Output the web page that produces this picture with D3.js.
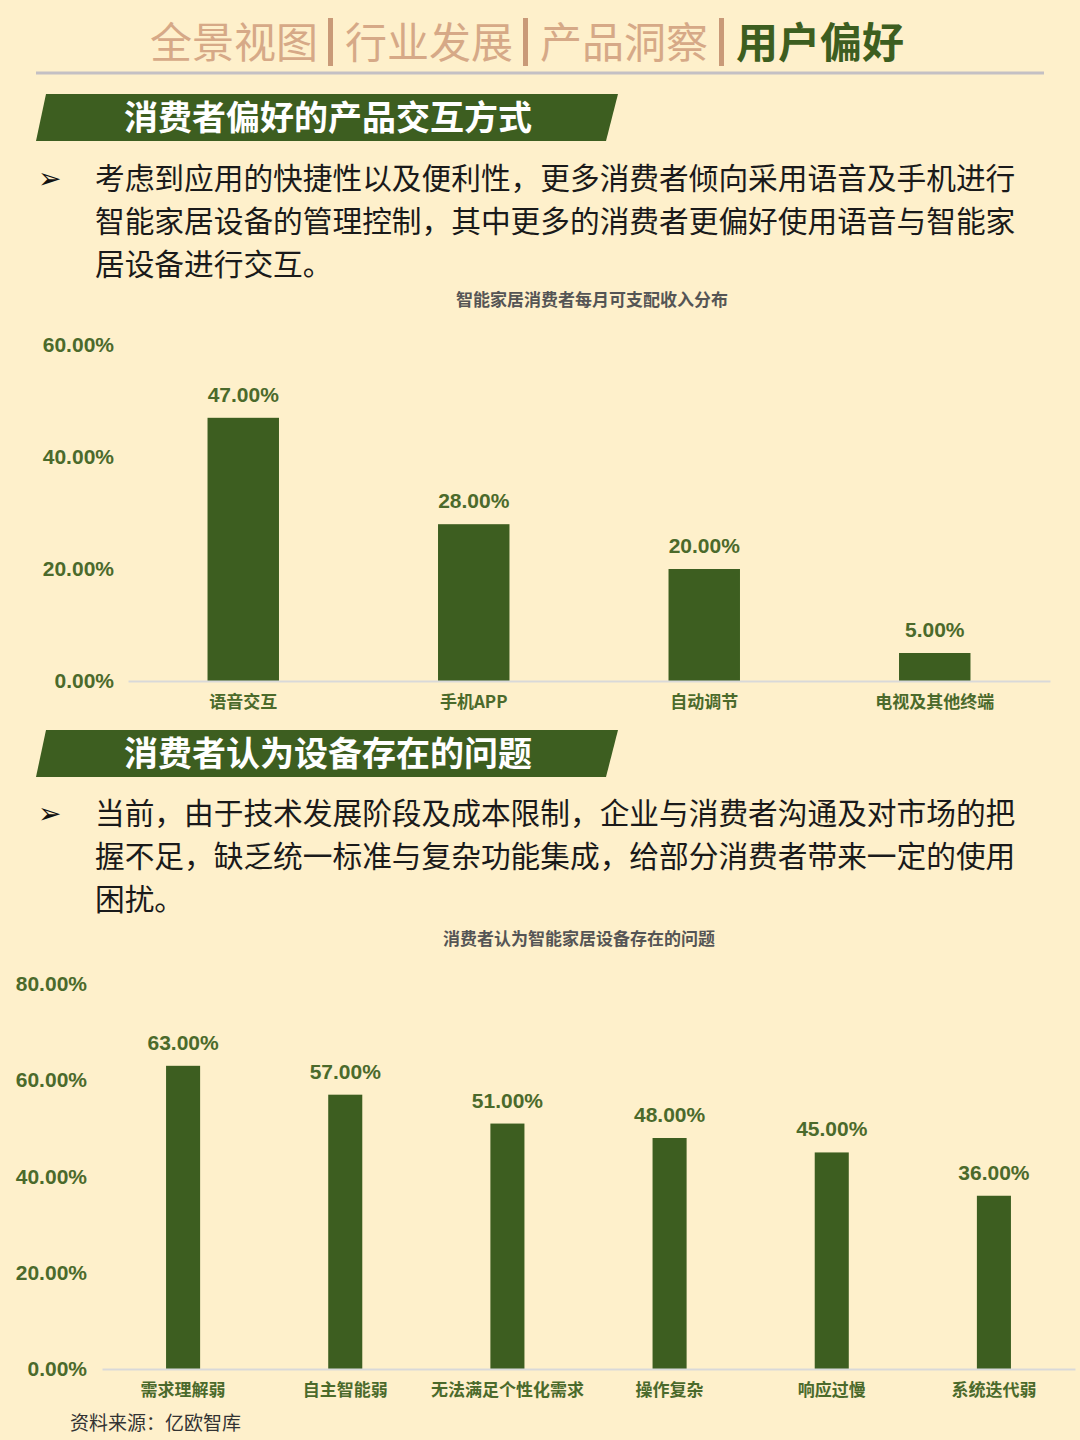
<!DOCTYPE html>
<html lang="zh">
<head>
<meta charset="UTF-8">
<title>用户偏好</title>
<script src="https://d3js.org/d3.v7.min.js"></script>
<style>
  body { margin: 0; background: #fef0cb; }
  svg { display: block; }
</style>
</head>
<body>
<div id="page"></div>
<script>
// chart 1 data
var interactCats = ["语音交互", "手机APP", "自动调节", "电视及其他终端"];
var interactVals = [0.47, 0.28, 0.20, 0.05];
var interactTicks = [0, 0.2, 0.4, 0.6];

// chart 2 data
var problemCats = ["需求理解弱", "自主智能弱", "无法满足个性化需求", "操作复杂", "响应过慢", "系统迭代弱"];
var problemVals = [0.63, 0.57, 0.51, 0.48, 0.45, 0.36];
var problemTicks = [0, 0.2, 0.4, 0.6, 0.8];

var navItems = ["全景视图", "行业发展", "产品洞察", "用户偏好"];
var para1 = ["考虑到应用的快捷性以及便利性，更多消费者倾向采用语音及手机进行",
             "智能家居设备的管理控制，其中更多的消费者更偏好使用语音与智能家",
             "居设备进行交互。"];
var para2 = ["当前，由于技术发展阶段及成本限制，企业与消费者沟通及对市场的把",
             "握不足，缺乏统一标准与复杂功能集成，给部分消费者带来一定的使用",
             "困扰。"];

var W = 1080, H = 1440;
var cjk = "'Noto Sans CJK SC', 'Noto Sans', sans-serif";
var num = "'Liberation Sans', Arial, sans-serif";
var green = "#3d5e20";
var labelGreen = "#4b6a2b";
var fmt = d3.format(".2%");

var svg = d3.select("#page").append("svg")
    .attr("width", W).attr("height", H);

svg.append("rect").attr("width", W).attr("height", H).attr("fill", "#fef0cb");

// top nav
var navX = [150, 345, 540, 736];
navItems.forEach(function(t, i) {
    var last = i == navItems.length - 1;
    svg.append("text")
        .attr("x", navX[i]).attr("y", 58)
        .style("font-family", cjk)
        .style("font-size", "42px")
        .style("font-weight", last ? 700 : 400)
        .attr("fill", last ? green : "#d6a987")
        .text(t);
    if (!last) {
        svg.append("rect")
            .attr("x", navX[i + 1] - 17).attr("y", 18)
            .attr("width", 5).attr("height", 48)
            .attr("fill", "#c99a78");
    }
});
svg.append("line")
    .attr("x1", 36).attr("x2", 1044).attr("y1", 73).attr("y2", 73)
    .attr("stroke", "#c4c0c4").attr("stroke-width", 3);

// section banner
function banner(y, title) {
    svg.append("path")
        .attr("d", "M46," + y + " L618," + y + " L606," + (y + 47) + " L36," + (y + 47) + " Z")
        .attr("fill", green);
    svg.append("text")
        .attr("x", 124).attr("y", y + 36)
        .style("font-family", cjk)
        .style("font-size", "34px")
        .style("font-weight", 700)
        .attr("fill", "#fff")
        .text(title);
}

function paragraph(y, lines) {
    svg.append("text")
        .attr("x", 38).attr("y", y + 10)
        .style("font-family", "'DejaVu Sans', sans-serif")
        .style("font-size", "28px")
        .attr("fill", "#111")
        .text("➢");
    lines.forEach(function(l, i) {
        svg.append("text")
            .attr("x", 95).attr("y", y + 11 + i * 43)
            .style("font-family", cjk)
            .style("font-size", "29.7px")
            .attr("fill", "#1a1a1a")
            .text(l);
    });
}

function barChart(opt) {
    var x = d3.scaleBand()
        .domain(opt.cats)
        .range([opt.left, opt.right])
        .paddingInner(opt.pad).paddingOuter(opt.pad / 2);
    var y = d3.scaleLinear()
        .domain([0, d3.max(opt.ticks)])
        .range([opt.bottom, opt.top]);

    svg.append("text")
        .attr("x", opt.titleX).attr("y", opt.titleY)
        .attr("text-anchor", "middle")
        .style("font-family", cjk)
        .style("font-size", "17px")
        .style("font-weight", 700)
        .attr("fill", "#555")
        .text(opt.title);

    // y axis, labels only
    var ya = svg.append("g")
        .attr("transform", "translate(" + opt.axisX + ",0)")
        .call(d3.axisLeft(y).tickValues(opt.ticks).tickFormat(fmt).tickSize(0).tickPadding(0));
    ya.select(".domain").remove();
    ya.selectAll("text")
        .style("font-family", num)
        .style("font-size", "21px")
        .style("font-weight", 700)
        .attr("fill", labelGreen);

    // bars
    svg.append("g").selectAll("rect")
        .data(opt.vals)
        .enter().append("rect")
        .attr("x", function(d, i) { return x(opt.cats[i]); })
        .attr("y", function(d) { return y(d); })
        .attr("width", x.bandwidth())
        .attr("height", function(d) { return y(0) - y(d); })
        .attr("fill", green);

    // baseline + category labels
    var xa = svg.append("g")
        .attr("transform", "translate(0," + opt.bottom + ")")
        .call(d3.axisBottom(x).tickSize(0).tickPadding(15));
    xa.select(".domain").attr("stroke", "#d9d9d9").attr("stroke-width", 2);
    xa.selectAll("text")
        .style("font-family", cjk)
        .style("font-size", "17px")
        .style("font-weight", 700)
        .attr("fill", labelGreen);

    // value labels
    svg.append("g").selectAll("text")
        .data(opt.vals)
        .enter().append("text")
        .attr("x", function(d, i) { return x(opt.cats[i]) + x.bandwidth() / 2; })
        .attr("y", function(d) { return y(d) - 16; })
        .attr("text-anchor", "middle")
        .style("font-family", num)
        .style("font-size", "21px")
        .style("font-weight", 700)
        .attr("fill", labelGreen)
        .text(function(d) { return fmt(d); });
}

banner(94, "消费者偏好的产品交互方式");
paragraph(178, para1);
barChart({
    cats: interactCats, vals: interactVals, ticks: interactTicks,
    left: 128, right: 1050, top: 345, bottom: 681, pad: 0.69,
    axisX: 114, title: "智能家居消费者每月可支配收入分布", titleX: 592, titleY: 306
});

banner(730, "消费者认为设备存在的问题");
paragraph(813, para2);
barChart({
    cats: problemCats, vals: problemVals, ticks: problemTicks,
    left: 102, right: 1075, top: 984, bottom: 1369, pad: 0.79,
    axisX: 87, title: "消费者认为智能家居设备存在的问题", titleX: 579, titleY: 945
});

svg.append("text")
    .attr("x", 70).attr("y", 1430)
    .style("font-family", cjk)
    .style("font-size", "19px")
    .attr("fill", "#333")
    .text("资料来源：亿欧智库");
</script>
</body>
</html>
